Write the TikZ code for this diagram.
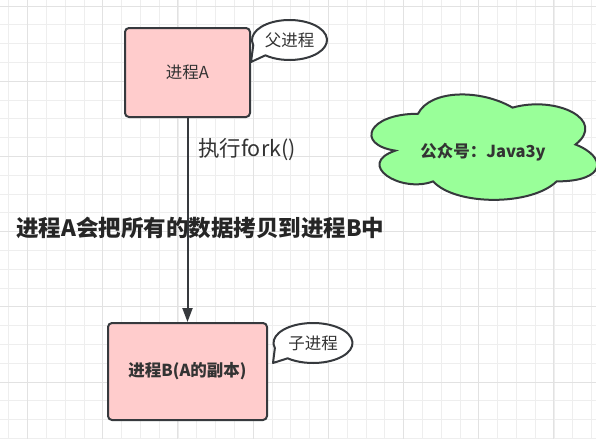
\documentclass[tikz,border=0pt]{standalone}
\usepackage{fontspec}
\setmainfont{Noto Sans CJK SC}
\usetikzlibrary{arrows.meta}
\definecolor{gridminor}{HTML}{EEEEEE}
\definecolor{gridmajor}{HTML}{E2E2E2}
\definecolor{strokec}{HTML}{36393D}
\definecolor{pinkfill}{HTML}{FFCCCC}
\definecolor{greenfill}{HTML}{99FF99}
\definecolor{textc}{HTML}{333333}
\tikzset{
  procbox/.style={draw=strokec, fill=pinkfill, line width=2pt, rounded corners=4pt, text=textc, align=center},
  bubble/.style={draw=strokec, fill=white, line width=2pt, line join=round},
  cloudshape/.style={draw=strokec, fill=greenfill, line width=2pt},
  lbl/.style={text=textc, inner sep=0pt},
  arrowline/.style={draw=strokec, line width=2pt, -{Triangle[length=14pt,width=10pt]}},
  basefont/.style={font=\fontsize{16.5}{19}\selectfont}
}
\begin{document}
\begin{tikzpicture}[x=1pt,y=-1pt]
\useasboundingbox (0,0) rectangle (596,439);
\fill[white] (0,0) rectangle (596,439);
% grid
\foreach \i in {0,...,31} {
  \draw[gridminor, line width=0.8pt] ({8.7+18.8*\i},0) -- ++(0,439);
}
\foreach \i in {0,...,23} {
  \draw[gridminor, line width=0.8pt] (0,{6+18.8*\i}) -- ++(596,0);
}
\foreach \i in {0,...,7} {
  \draw[gridmajor, line width=1pt] ({27.5+75.2*\i},0) -- ++(0,439);
}
\foreach \i in {0,...,5} {
  \draw[gridmajor, line width=1pt] (0,{6+75.2*\i}) -- ++(596,0);
}
% process boxes
\node[procbox, basefont, minimum width=125pt, minimum height=89pt] (A) at (187.5,72.5) {进程A};
\node[procbox, font=\fontsize{16.5}{19}\selectfont\bfseries, minimum width=159pt, minimum height=97pt] (B) at (187.5,371.5) {进程B(A的副本)};
% arrow
\draw[arrowline] (A.south) -- (B.north);
% bubbles
\draw[bubble] ([shift={(165:37.5 and 20)}]289.5,40) arc[start angle=165, end angle=490, x radius=37.5, y radius=20] -- (251,62) -- cycle;
\node[lbl, basefont] (p1) at (289.5,40) {父进程};
\draw[bubble] ([shift={(165:39.5 and 20)}]313,343) arc[start angle=165, end angle=490, x radius=39.5, y radius=20] -- (273,363) -- cycle;
\node[lbl, basefont] (p2) at (313,343) {子进程};
% cloud (w=252, h=123, x0=355, y0=83)
\draw[cloudshape] (418,113.75) .. controls (367.6,113.75) and (355,144.5) .. (395.3,150.65)
  .. controls (355,164.2) and (400.4,193.7) .. (433.1,181.4)
  .. controls (455.8,206) and (531.4,206) .. (556.6,181.4)
  .. controls (607,181.4) and (607,156.8) .. (575.5,144.5)
  .. controls (607,119.9) and (556.6,95.3) .. (512.5,107.6)
  .. controls (481,89.15) and (430.6,89.15) .. (418,113.75) -- cycle;
\node[lbl, font=\fontsize{16.5}{19}\selectfont\bfseries] (cl) at (483,152) {公众号：Java3y};
% texts
\node[lbl, anchor=west, font=\fontsize{21.5}{24}\selectfont, text=textc] (fork) at (198,150) {执行fork()};
\node[lbl, anchor=west, font=\fontsize{22.5}{26}\selectfont\bfseries, text=black!85] (copy) at (16,228) {进程A会把所有的数据拷贝到进程B中};
\end{tikzpicture}
\end{document}
